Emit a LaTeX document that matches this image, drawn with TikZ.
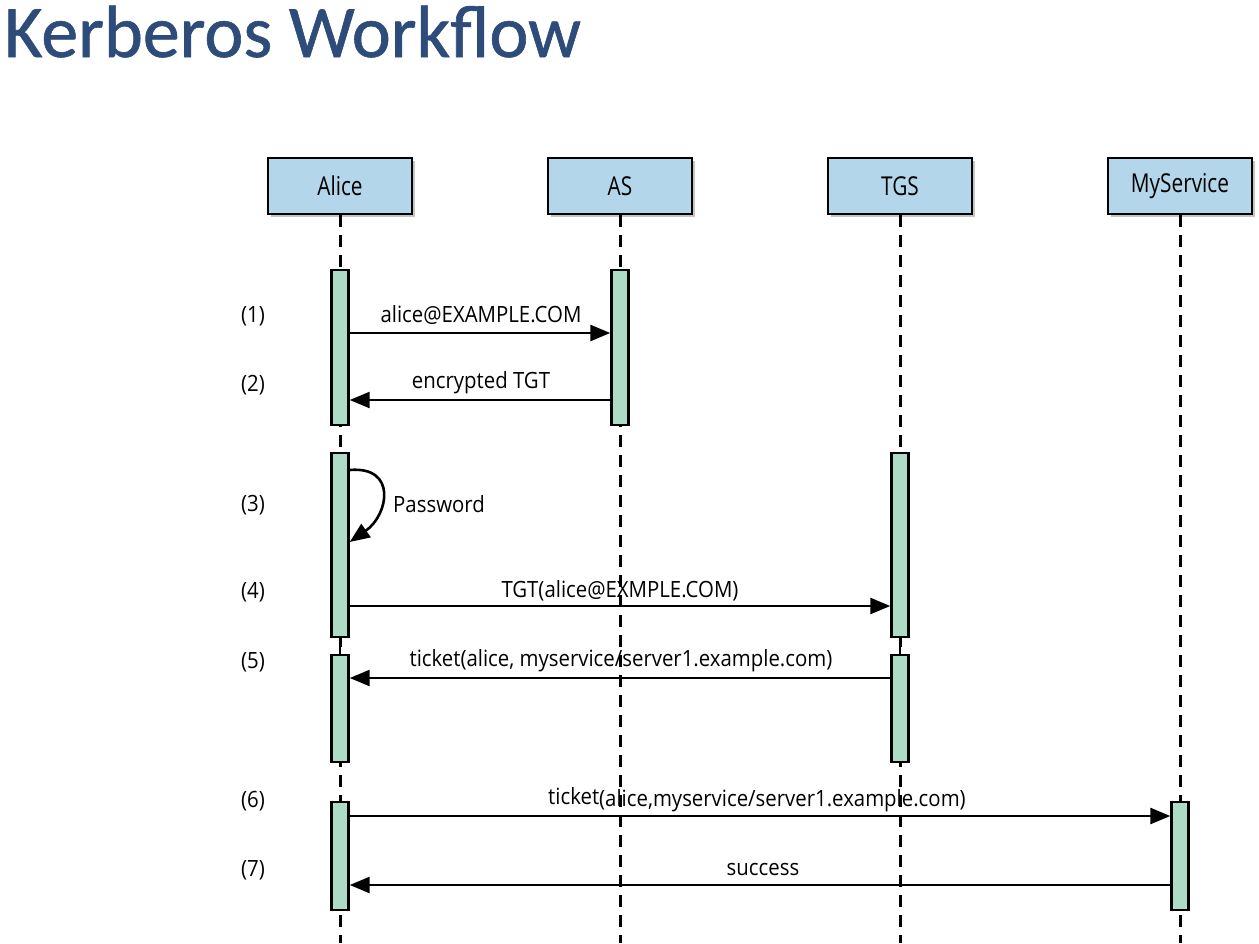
\documentclass[tikz,border=0pt]{standalone}
\usepackage{fontspec}
\setmainfont{Carlito}
\newfontfamily\titlefont[FakeBold=0.8]{Carlito}
\newfontfamily\lblfont[FakeStretch=0.91]{Open Sans}
\newfontfamily\boxfont[FakeStretch=0.8]{Open Sans}
\usetikzlibrary{arrows.meta,shadows}
\definecolor{titleblue}{RGB}{46,76,122}
\definecolor{boxblue}{RGB}{180,214,234}
\definecolor{bargreen}{RGB}{172,220,198}
\begin{document}
\begin{tikzpicture}[x=1pt,y=-1pt,
  part/.style={draw=black,line width=2.2pt,fill=boxblue,minimum width=144pt,minimum height=56pt,inner sep=0pt,
    font=\boxfont\fontsize{26}{30}\selectfont,
    drop shadow={shadow xshift=3pt,shadow yshift=-3pt,fill=black!45}},
  life/.style={line width=3pt,dash pattern=on 12pt off 8pt},
  bar/.style={draw=black,line width=2.4pt,fill=bargreen,minimum width=17pt,inner sep=0pt},
  msg/.style={line width=2.6pt,-{Triangle[length=20pt,width=16pt]}},
  lbl/.style={font=\lblfont\fontsize{22.4}{26}\selectfont,inner sep=0pt},
  titletext/.style={anchor=base west,inner sep=0pt,font=\titlefont\fontsize{74}{80}\selectfont},
]
\useasboundingbox (0,0) rectangle (1259,943);
\fill[white] (0,0) rectangle (1259,943);
% title
\node[titletext,text=titleblue] (title) at (4,57) {Kerberos Workflow};
% participants
\node[part] (alice) at (340,186) {Alice};
\node[part] (as) at (620,186) {AS};
\node[part] (tgs) at (900,186) {TGS};
\node[part] (svc) at (1180,186) {MyService};
% lifelines
\coordinate (aliceEnd) at (340,943);
\coordinate (asEnd) at (620,943);
\coordinate (tgsEnd) at (900,943);
\coordinate (svcEnd) at (1180,943);
\draw[life] (alice.south) -- (aliceEnd);
\draw[life] (as.south) -- (asEnd);
\draw[life] (tgs.south) -- (tgsEnd);
\draw[life] (svc.south) -- (svcEnd);
% activation bars
\node[bar,minimum height=155pt] (a1) at (340,347.5) {};
\node[bar,minimum height=155pt] (s1) at (620,347.5) {};
\node[bar,minimum height=184pt] (a2) at (340,545) {};
\node[bar,minimum height=184pt] (t1) at (900,545) {};
\node[bar,minimum height=107pt] (a3) at (340,708.5) {};
\node[bar,minimum height=107pt] (t2) at (900,708.5) {};
\node[bar,minimum height=108pt] (a4) at (340,856) {};
\node[bar,minimum height=108pt] (v1) at (1180,856) {};
% solid bits between adjacent bars
\draw[line width=2.4pt] (a2.south) -- (a3.north);
\draw[line width=2.4pt] (t1.south) -- (t2.north);
% message rows
\coordinate (m1) at (0,333);
\coordinate (m2) at (0,400);
\coordinate (m3a) at (0,470);
\coordinate (m3b) at (0,542);
\coordinate (m4) at (0,606);
\coordinate (m5) at (0,678);
\coordinate (m6) at (0,816);
\coordinate (m7) at (0,885);
\draw[msg] (a1.east |- m1) -- (s1.west |- m1);
\draw[msg] (s1.west |- m2) -- (a1.east |- m2);
\draw[msg] (a2.east |- m3a) to[out=5,in=35,looseness=1.7] (a2.east |- m3b);
\draw[msg] (a2.east |- m4) -- (t1.west |- m4);
\draw[msg] (t2.west |- m5) -- (a3.east |- m5);
\draw[msg] (a4.east |- m6) -- (v1.west |- m6);
\draw[msg] (v1.west |- m7) -- (a4.east |- m7);
% message labels
\node[lbl] (l1) at (481,315) {alice@EXAMPLE.COM};
\node[lbl] (l2) at (481,383) {encrypted TGT};
\node[lbl,anchor=west] (l3) at (393,504) {Password};
\node[lbl] (l4) at (620,591) {TGT(alice@EXMPLE.COM)};
\node[lbl] (l5) at (621,661) {ticket(alice, myservice/server1.example.com)};
\node[lbl] (l6) at (757,800) {\raisebox{2pt}{ticket}(alice,myservice/server1.example.com)};
\node[lbl] (l7) at (763,869) {success};
% step numbers
\node[lbl] (n1) at (253,316) {(1)};
\node[lbl] (n2) at (253,385) {(2)};
\node[lbl] (n3) at (253,505) {(3)};
\node[lbl] (n4) at (253,592) {(4)};
\node[lbl] (n5) at (253,662) {(5)};
\node[lbl] (n6) at (253,801) {(6)};
\node[lbl] (n7) at (253,870) {(7)};
\end{tikzpicture}
\end{document}
